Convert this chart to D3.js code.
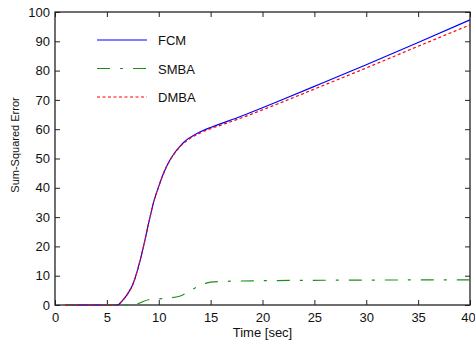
<!DOCTYPE html>
<html>
<head>
<meta charset="utf-8">
<script src="https://cdn.jsdelivr.net/npm/d3@7"></script>
<style>
	body { margin: 0; background: #fff; }
	svg text { font-family: "Liberation Sans", Arial, sans-serif; fill: #111; }
</style>
</head>
<body>
<div id="chart"></div>
<script>
// values
var time = [1, 6, 6.5, 7, 7.5, 8, 8.5, 9, 9.5, 10, 10.5, 11, 11.5, 12, 12.5, 13, 14, 15, 16, 18, 20, 22, 25, 30, 35, 40];
var fcm  = [0, 0, 1.5, 3.8, 7, 12.5, 19.5, 27.5, 35, 40.5, 45.3, 49, 51.8, 54, 55.8, 57.1, 59.1, 60.6, 61.9, 64.5, 67.3, 70.2, 74.6, 82, 89.6, 97.3];
var dmba = [0, 0, 1.5, 3.8, 7, 12.5, 19.5, 27.5, 35, 40.5, 45.2, 48.9, 51.6, 53.8, 55.5, 56.8, 58.7, 60.2, 61.4, 63.9, 66.6, 69.4, 73.7, 80.9, 88.3, 95.6];
var smbaTime = [1, 7.8, 8, 8.5, 9, 9.5, 10, 11, 12, 12.5, 13, 13.5, 14, 14.5, 15, 16, 20, 30, 40];
var smba     = [0, 0, 0.4, 1.2, 1.8, 2.0, 2.1, 2.4, 3.0, 3.8, 4.8, 5.8, 6.7, 7.4, 7.8, 8.0, 8.3, 8.5, 8.6];
var xTicks = [0, 5, 10, 15, 20, 25, 30, 35, 40];
var yTicks = [0, 10, 20, 30, 40, 50, 60, 70, 80, 90, 100];

var margin = {top: 12, left: 55, right: 5, bottom: 40};
var width = 475 - margin.left - margin.right;
var height = 345 - margin.top - margin.bottom;

var svg = d3.select("#chart").append("svg")
	.attr("width", 475)
	.attr("height", 345);
var g = svg.append("g")
	.attr("transform", "translate(" + margin.left + "," + margin.top + ")");

var x = d3.scaleLinear().domain([0, 40]).range([0, width]);
var y = d3.scaleLinear().domain([0, 100]).range([height, 0]);

function styleAxis(sel){
	sel.select(".domain").remove();
	sel.selectAll("line").attr("stroke", "#222");
	sel.selectAll("text").attr("font-size", 13).attr("fill", "#111");
}

g.append("g")
	.attr("transform", "translate(0," + height + ")")
	.call(d3.axisBottom(x).tickValues(xTicks).tickSize(-5).tickPadding(8))
	.call(styleAxis);
// last label sits at the window edge, as in the figure
g.selectAll("text").filter(function(d){ return d === 40; }).attr("dx", -2);
g.append("g")
	.call(d3.axisLeft(y).tickValues(yTicks).tickSize(-5).tickPadding(5))
	.call(styleAxis);
g.append("g")
	.call(d3.axisTop(x).tickValues(xTicks).tickSize(-5).tickFormat(""))
	.call(styleAxis);
g.append("g")
	.attr("transform", "translate(" + width + ",0)")
	.call(d3.axisRight(y).tickValues(yTicks).tickSize(-5).tickFormat(""))
	.call(styleAxis);

g.append("rect")
	.attr("width", width)
	.attr("height", height)
	.attr("fill", "none")
	.attr("stroke", "#222")
	.attr("stroke-width", 1.3);

var series = [
	{name: "FCM", t: time, v: fcm, color: "#0000ff", dash: null},
	{name: "SMBA", t: smbaTime, v: smba, color: "#1a8f1a", dash: "13,10,3,10"},
	{name: "DMBA", t: time, v: dmba, color: "#ff0000", dash: "3,2.5"}
];

var line = d3.line()
	.x(function(d){ return x(d[0]); })
	.y(function(d){ return y(d[1]); })
	.curve(d3.curveMonotoneX);

series.forEach(function(s){
	g.append("path")
		.datum(d3.zip(s.t, s.v))
		.attr("fill", "none")
		.attr("stroke", s.color)
		.attr("stroke-width", 1.2)
		.attr("stroke-dasharray", s.dash)
		.attr("d", line);
});

// legend
var legend = g.append("g").attr("transform", "translate(42,28)");
series.forEach(function(s, i){
	var row = legend.append("g").attr("transform", "translate(0," + (i * 28.5) + ")");
	row.append("line")
		.attr("x1", 0).attr("x2", 50)
		.attr("stroke", s.color)
		.attr("stroke-width", 1.2)
		.attr("stroke-dasharray", s.dash);
	row.append("text")
		.attr("x", 61)
		.attr("y", 5)
		.attr("font-size", 13)
		.text(s.name);
});

svg.append("text")
	.attr("x", margin.left + width / 2)
	.attr("y", 337)
	.attr("text-anchor", "middle")
	.attr("font-size", 13)
	.text("Time [sec]");

svg.append("text")
	.attr("transform", "translate(19,145) rotate(-90)")
	.attr("text-anchor", "middle")
	.attr("font-size", 11)
	.text("Sum-Squared Error");
</script>
</body>
</html>
